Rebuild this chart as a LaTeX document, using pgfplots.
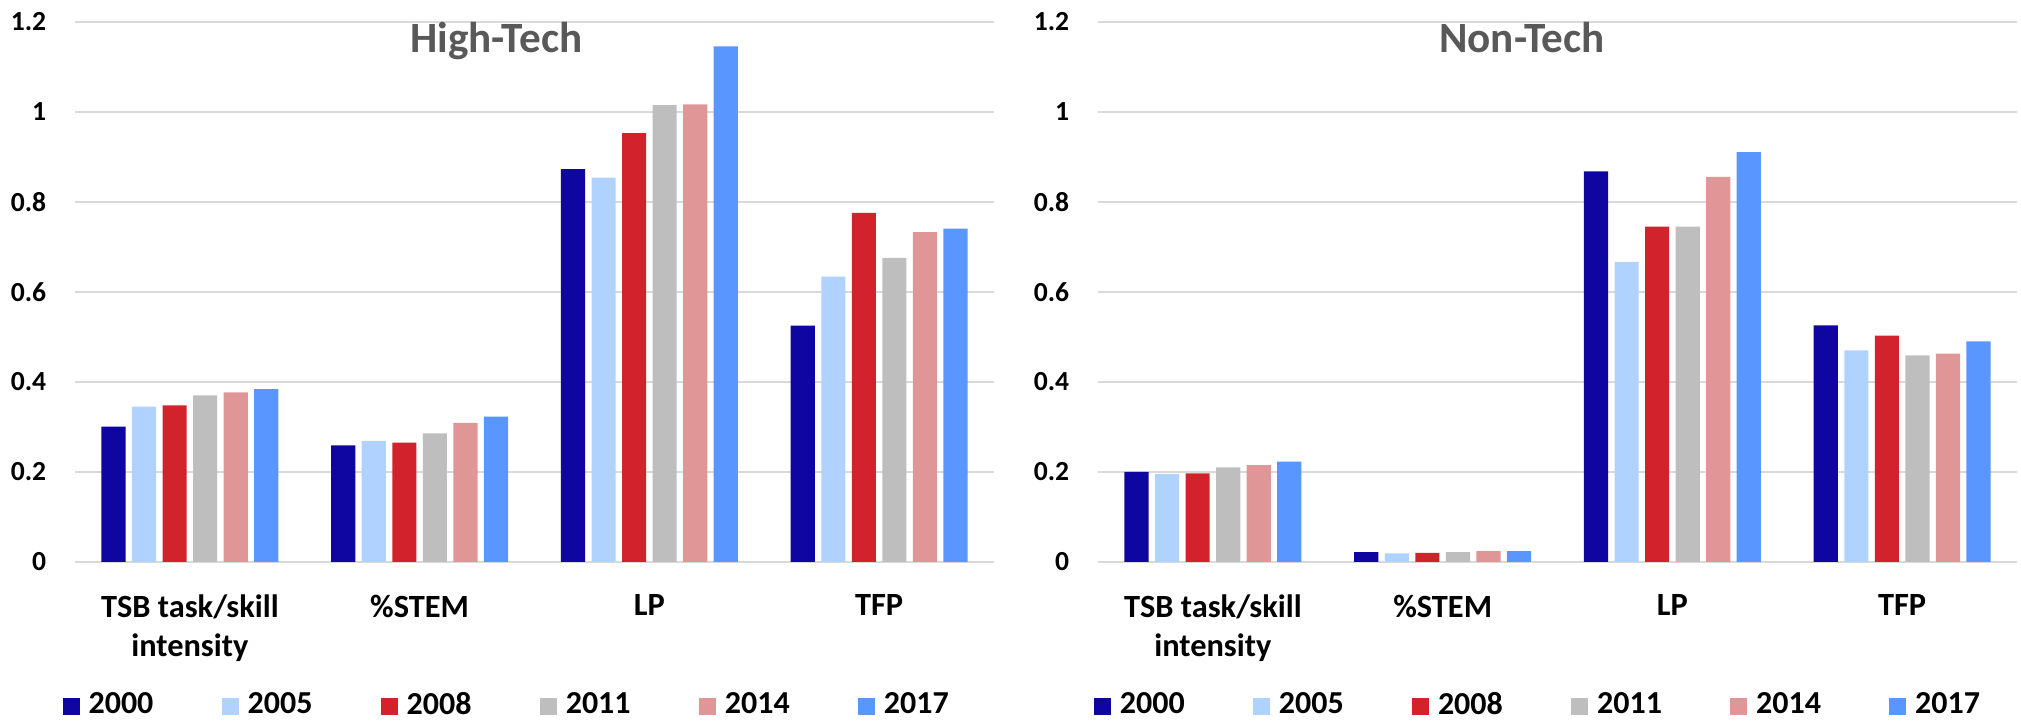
\documentclass[border=0pt]{standalone}
\usepackage{fontspec}
\setmainfont{Carlito}
\usepackage{pgfplots}
\usepackage{pgfplotstable}
\pgfplotsset{compat=1.18}

\definecolor{c2000}{RGB}{15,5,160}
\definecolor{c2005}{RGB}{176,210,255}
\definecolor{c2008}{RGB}{210,35,45}
\definecolor{c2011}{RGB}{190,190,190}
\definecolor{c2014}{RGB}{224,150,150}
\definecolor{c2017}{RGB}{90,150,255}
\definecolor{gridc}{RGB}{217,217,217}
\definecolor{titlec}{RGB}{89,89,89}

% x: 0 TSB task/skill intensity, 1 %STEM, 2 LP, 3 TFP
\pgfplotstableread{
x  a2000 a2005 a2008 a2011 a2014 a2017
0  0.301 0.345 0.348 0.370 0.377 0.384
1  0.259 0.269 0.265 0.286 0.309 0.323
2  0.873 0.854 0.953 1.015 1.017 1.146
3  0.525 0.634 0.776 0.676 0.733 0.741
}\hightech

\pgfplotstableread{
x  a2000 a2005 a2008 a2011 a2014 a2017
0  0.200 0.195 0.197 0.210 0.215 0.223
1  0.022 0.019 0.020 0.022 0.024 0.024
2  0.868 0.667 0.745 0.745 0.856 0.911
3  0.526 0.470 0.503 0.459 0.463 0.490
}\nontech

\pgfplotsset{
  lg/.style={legend image code/.code={\fill[##1] (0pt,-2.125pt) rectangle (4.25pt,2.125pt);}},
  mybar/.style={
    scale only axis, width=229.75pt, height=135pt,
    anchor=south west,
    ymin=0, ymax=1.2, xmin=-0.5, xmax=3.5,
    ytick={0,0.2,0.4,0.6,0.8,1,1.2},
    xtick={0,1,2,3},
    xticklabels={{TSB task/skill\\intensity},{\%STEM},{LP},{TFP}},
    xticklabel style={align=center, anchor=north, inner sep=0pt, yshift=-8pt,
      font=\fontsize{8.1}{9.75}\selectfont\bfseries},
    yticklabel style={anchor=east, inner sep=0pt, xshift=-7pt,
      font=\fontsize{6.9}{8}\selectfont\bfseries},
    /pgf/number format/assume math mode=true,
    major tick length=0pt,
    tick style={draw=none},
    axis line style={draw=none},
    ymajorgrids, grid style={draw=gridc, line width=0.45pt},
    ybar=1.58pt, bar width=6.05pt,
    legend columns=6,
    legend style={draw=none, fill=none, inner sep=0pt, outer sep=0pt,
      anchor=west, column sep=0pt,
      font=\fontsize{8}{9}\selectfont\bfseries,
      nodes={inner sep=0pt},
      /tikz/every odd column/.append style={column sep=2.2pt},
      /tikz/every even column/.append style={column sep=17.1pt}},
  }
}

\begin{document}
\begin{tikzpicture}
\begin{axis}[mybar, at={(18.75pt,40.25pt)},
  legend style={at={(axis description cs:-0.0133,-0.267)}}]
  \addplot[fill=c2000, draw=none, lg] table[x=x, y=a2000] {\hightech};
  \addplot[fill=c2005, draw=none, lg] table[x=x, y=a2005] {\hightech};
  \addplot[fill=c2008, draw=none, lg] table[x=x, y=a2008] {\hightech};
  \addplot[fill=c2011, draw=none, lg] table[x=x, y=a2011] {\hightech};
  \addplot[fill=c2014, draw=none, lg] table[x=x, y=a2014] {\hightech};
  \addplot[fill=c2017, draw=none, lg] table[x=x, y=a2017] {\hightech};
  \legend{2000,2005,2008,2011,2014,2017}
\end{axis}
\begin{axis}[mybar, at={(274.5pt,40.25pt)},
  legend style={at={(axis description cs:-0.0043,-0.267)}}]
  \addplot[fill=c2000, draw=none, lg] table[x=x, y=a2000] {\nontech};
  \addplot[fill=c2005, draw=none, lg] table[x=x, y=a2005] {\nontech};
  \addplot[fill=c2008, draw=none, lg] table[x=x, y=a2008] {\nontech};
  \addplot[fill=c2011, draw=none, lg] table[x=x, y=a2011] {\nontech};
  \addplot[fill=c2014, draw=none, lg] table[x=x, y=a2014] {\nontech};
  \addplot[fill=c2017, draw=none, lg] table[x=x, y=a2017] {\nontech};
  \legend{2000,2005,2008,2011,2014,2017}
\end{axis}
\node[anchor=base, inner sep=0pt, text=titlec, font=\fontsize{10.8}{12}\selectfont\bfseries] at (124.1pt,167.5pt) {High-Tech};
\node[anchor=base, inner sep=0pt, text=titlec, font=\fontsize{10.8}{12}\selectfont\bfseries] at (380.5pt,167.5pt) {Non-Tech};
\pgfresetboundingbox
\path (0,0) rectangle (505.25pt,180.75pt);
\end{tikzpicture}
\end{document}
